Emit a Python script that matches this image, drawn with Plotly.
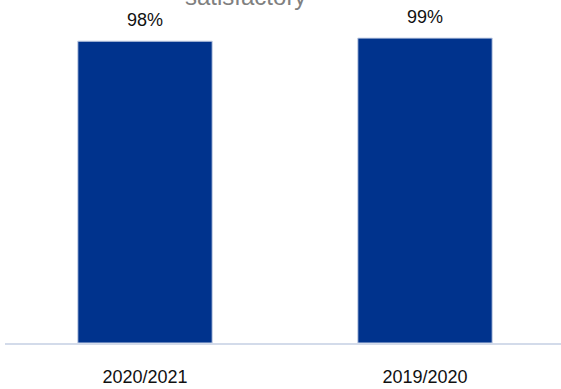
import plotly.graph_objects as go

years = ["2020/2021", "2019/2020"]
satisfied_pct = [98, 99]
title_tail = "satisfactory"

FONT = "Liberation Sans, Arial, sans-serif"

fig = go.Figure()
fig.add_trace(go.Bar(
    x=years,
    y=satisfied_pct,
    width=0.48,
    marker=dict(color="#00338d", line=dict(color="#c8d2e6", width=1)),
))

# value labels floating above each bar
for yr, v in zip(years, satisfied_pct):
    fig.add_annotation(
        x=yr, y=v, xref="x", yref="y",
        text=f"{v}%",
        showarrow=False,
        yanchor="middle",
        yshift=21,
        font=dict(family=FONT, size=18, color="#111111"),
    )

fig.add_annotation(
    text=title_tail,
    xref="paper", yref="paper",
    x=0.432, y=1.125,
    xanchor="center", yanchor="middle",
    showarrow=False,
    font=dict(family=FONT, size=24, color="#808080"),
)

fig.update_layout(
    width=561, height=389,
    margin=dict(l=5, r=0, t=35, b=46),
    paper_bgcolor="white",
    plot_bgcolor="white",
    showlegend=False,
    xaxis=dict(
        range=[-0.5, 1.4857],
        showgrid=False,
        showline=True,
        linecolor="#d3dbea",
        linewidth=2,
        ticks="",
        ticklabelstandoff=16,
        tickfont=dict(family=FONT, size=18, color="#111111"),
    ),
    yaxis=dict(
        range=[0, 100],
        visible=False,
    ),
)

fig.write_html("out.html")
